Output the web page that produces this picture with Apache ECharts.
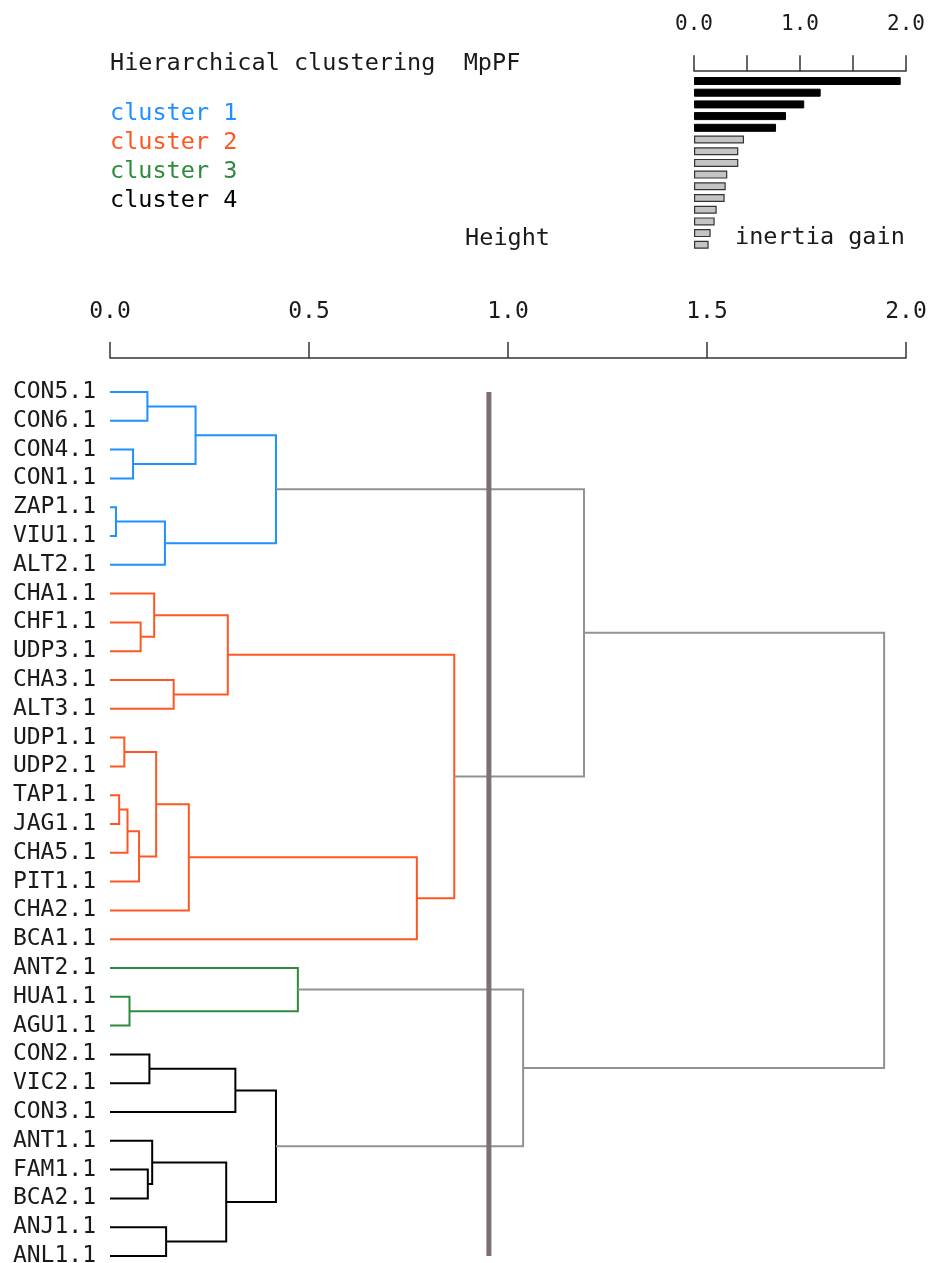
<!DOCTYPE html>
<html><head><meta charset="utf-8">
<script src="https://cdn.jsdelivr.net/npm/echarts@6/dist/echarts.min.js"></script>
<style>html,body{margin:0;padding:0;background:#fff}#c{width:932px;height:1263px}</style>
</head><body><div id="c"></div>
<script>
// ---- data ----
const leaves = ['CON5.1','CON6.1','CON4.1','CON1.1','ZAP1.1','VIU1.1','ALT2.1',
  'CHA1.1','CHF1.1','UDP3.1','CHA3.1','ALT3.1','UDP1.1','UDP2.1','TAP1.1','JAG1.1',
  'CHA5.1','PIT1.1','CHA2.1','BCA1.1','ANT2.1','HUA1.1','AGU1.1',
  'CON2.1','VIC2.1','CON3.1','ANT1.1','FAM1.1','BCA2.1','ANJ1.1','ANL1.1'];
const leafCluster = [0,0,0,0,0,0,0, 1,1,1,1,1,1,1,1,1,1,1,1,1, 2,2,2, 3,3,3,3,3,3,3,3];
// merges: [childA, childB, height]; leaves are 0..30, merge k gets id 31+k
const merges = [
  [0,1,0.094],[2,3,0.058],[31,32,0.215],[4,5,0.015],[34,6,0.138],[33,35,0.417],
  [8,9,0.077],[7,37,0.111],[10,11,0.160],[38,39,0.296],
  [12,13,0.036],[14,15,0.023],[42,16,0.044],[43,17,0.073],[41,44,0.116],[45,18,0.198],[46,19,0.771],
  [40,47,0.865],
  [21,22,0.049],[20,49,0.472],
  [23,24,0.099],[51,25,0.315],[27,28,0.095],[26,53,0.106],[29,30,0.141],[54,55,0.292],[52,56,0.417],
  [36,48,1.191],[50,57,1.038],[58,59,1.945]
];
const cutHeight = 0.952;
const clusterNames = ['cluster 1','cluster 2','cluster 3','cluster 4'];
const inertiaGain = [1.950,1.195,1.040,0.868,0.774,0.472,0.418,0.418,0.314,0.299,0.289,0.214,0.195,0.157,0.138];
const highlightedGains = 5;
const titleText = 'Hierarchical clustering  MpPF';

// ---- styles ----
const FONT = "'DejaVu Sans Mono', monospace";
const clusterColors = ['#1E90FF','#FF5722','#2E8B3C','#000000'];
const linkColor = '#929292';

// ---- tree geometry (in data units) ----
const n = leaves.length;
const nodeY = leaves.map((_, i) => i);
const nodeH = leaves.map(() => 0);
const nodeC = leafCluster.slice();
const segs = [];
merges.forEach((m) => {
  const [a, b, h] = m;
  nodeY.push((nodeY[a] + nodeY[b]) / 2);
  nodeH.push(h);
  nodeC.push(nodeC[a]);
  segs.push([h, nodeY[a], nodeY[b], nodeH[a], nodeH[b], h < cutHeight ? nodeC[a] : -1]);
});

const chart = echarts.init(document.getElementById('c'));
const band = 28.8, firstLeafY = 392;
const gTop = firstLeafY - band / 2;
chart.setOption({
  animation: false,
  backgroundColor: '#ffffff',
  grid: [
    {left: 110, width: 796, top: gTop, height: band * n, outerBoundsMode: 'none', containLabel: false},
    {left: 694, width: 212, top: 75.15, height: 175.5, outerBoundsMode: 'none', containLabel: false}
  ],
  xAxis: [
    {type: 'value', gridIndex: 0, min: 0, max: 2, interval: 0.5, position: 'top', offset: gTop - 358,
     axisLine: {show: true, onZero: false, lineStyle: {color: '#333', width: 1.5}},
     axisTick: {show: true, length: 16, lineStyle: {color: '#333', width: 1.5}},
     axisLabel: {fontFamily: FONT, fontSize: 23, color: '#1a1a1a', margin: 34, formatter: v => v.toFixed(1)},
     splitLine: {show: false}},
    {type: 'value', gridIndex: 1, min: 0, max: 2, interval: 0.5, position: 'top', offset: 4,
     axisLine: {show: true, onZero: false, lineStyle: {color: '#333', width: 1.5}},
     axisTick: {show: true, length: 16, lineStyle: {color: '#333', width: 1.5}},
     axisLabel: {fontFamily: FONT, fontSize: 21, color: '#1a1a1a', margin: 36,
       formatter: v => (Math.abs(v - Math.round(v)) < 1e-9 ? v.toFixed(1) : '')},
     splitLine: {show: false}}
  ],
  yAxis: [
    {type: 'category', gridIndex: 0, data: leaves, inverse: true,
     axisLine: {show: false}, axisTick: {show: false},
     axisLabel: {interval: 0, fontFamily: FONT, fontSize: 23, color: '#1a1a1a', margin: 14}},
    {type: 'value', gridIndex: 0, min: -0.5, max: n - 0.5, inverse: true, show: false},
    {type: 'category', gridIndex: 1, data: inertiaGain.map((_, i) => String(i + 1)), inverse: true, show: false}
  ],
  graphic: [
    {type: 'text', x: 110, y: 64, style: {text: titleText, font: `23.5px ${FONT}`, fill: '#1a1a1a', verticalAlign: 'middle'}},
    ...clusterNames.map((t, i) => ({type: 'text', x: 110, y: 114 + 29 * i,
      style: {text: t, font: `23.5px ${FONT}`, fill: clusterColors[i], verticalAlign: 'middle'}})),
    {type: 'text', x: 550, y: 239, style: {text: 'Height', font: `23.5px ${FONT}`, fill: '#1a1a1a', align: 'right', verticalAlign: 'middle'}},
    {type: 'text', x: 735, y: 238, style: {text: 'inertia gain', font: `23.5px ${FONT}`, fill: '#1a1a1a', verticalAlign: 'middle'}}
  ],
  series: [
    {type: 'custom', xAxisIndex: 0, yAxisIndex: 1, data: segs, z: 2,
     encode: {x: [0, 3, 4], y: [1, 2]},
     renderItem: (params, api) => {
       const h = api.value(0), ya = api.value(1), yb = api.value(2), ha = api.value(3), hb = api.value(4), ck = api.value(5);
       return {type: 'polyline',
         shape: {points: [api.coord([ha, ya]), api.coord([h, ya]), api.coord([h, yb]), api.coord([hb, yb])]},
         style: {stroke: ck < 0 ? linkColor : clusterColors[ck], lineWidth: 2, fill: null}};
     }},
    {type: 'line', xAxisIndex: 0, yAxisIndex: 1, z: 5, symbol: 'none', silent: true,
     data: [[cutHeight, 0], [cutHeight, n - 1]],
     lineStyle: {color: '#7b7171', width: 5}},
    {type: 'bar', xAxisIndex: 1, yAxisIndex: 2, barWidth: 8,
     data: inertiaGain.map((v, i) => ({value: v, itemStyle: i < highlightedGains
       ? {color: '#000', borderColor: '#000', borderWidth: 1}
       : {color: '#c4c4c4', borderColor: '#333', borderWidth: 1.2}}))}
  ]
});
</script></body></html>
